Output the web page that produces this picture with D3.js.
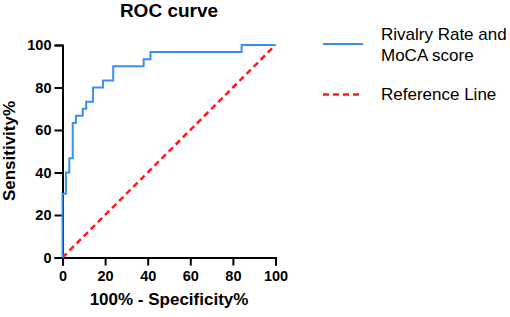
<!DOCTYPE html>
<html>
<head>
<meta charset="utf-8">
<script src="https://cdn.jsdelivr.net/npm/d3@7"></script>
<style>
  body { margin: 0; background: #fff; }
  text { font-family: "Liberation Sans", Arial, Helvetica, sans-serif; }
</style>
</head>
<body>
<div id="chart"></div>
<script>
// ROC points (100% - specificity, sensitivity)
const fpr = [0, 0, 1.6, 3.2, 4.8, 6.3, 9.5, 11.1, 14.3, 19.0, 23.8, 38.1, 41.3, 84.1, 100];
const tpr = [0, 30, 40, 46.7, 63.3, 66.7, 70, 73.3, 80, 83.3, 90, 93.3, 96.7, 100, 100];
const refX = [0, 100];
const refY = [0, 100];
const ticks = [0, 20, 40, 60, 80, 100];
const legendLabels = [["Rivalry Rate and", "MoCA score"], ["Reference Line"]];

const width = 510, height = 317;
const blue = "#3b8ff2", red = "#ff1a1a";

const svg = d3.select("#chart").append("svg")
    .attr("width", width)
    .attr("height", height);

const x = d3.scaleLinear().domain([0, 100]).range([62.5, 275.5]);
const y = d3.scaleLinear().domain([0, 100]).range([257.5, 45]);

// title
svg.append("text")
    .attr("x", 169).attr("y", 17)
    .attr("text-anchor", "middle")
    .style("font-size", "19px").style("font-weight", "bold")
    .text("ROC curve");

// axes
const xAxis = svg.append("g")
    .attr("transform", "translate(0," + y(0) + ")")
    .call(d3.axisBottom(x).tickValues(ticks).tickSize(8).tickPadding(5));
const yAxis = svg.append("g")
    .attr("transform", "translate(" + x(0) + ",0)")
    .call(d3.axisLeft(y).tickValues(ticks).tickSize(8).tickPadding(3));

[xAxis, yAxis].forEach(function(g) {
    g.select(".domain").attr("stroke", "#000").attr("stroke-width", 2);
    g.selectAll(".tick line").attr("stroke", "#000").attr("stroke-width", 2);
    g.selectAll(".tick text")
        .attr("fill", "#000")
        .style("font-size", "14.5px")
        .style("font-weight", "bold")
        .style("font-family", "'Liberation Sans', Arial, sans-serif");
});

svg.append("text")
    .attr("x", 169).attr("y", 305)
    .attr("text-anchor", "middle")
    .style("font-size", "17px").style("font-weight", "bold")
    .text("100% - Specificity%");

svg.append("text")
    .attr("transform", "translate(15," + 151 + ") rotate(-90)")
    .attr("text-anchor", "middle")
    .style("font-size", "17px").style("font-weight", "bold")
    .text("Sensitivity%");

// reference line
const refData = refX.map((v, i) => [v, refY[i]]);
svg.append("path")
    .datum(refData)
    .attr("fill", "none")
    .attr("stroke", red)
    .attr("stroke-width", 2.5)
    .attr("stroke-dasharray", "6,4")
    .attr("d", d3.line().x(d => x(d[0])).y(d => y(d[1])));

// ROC curve
const rocData = fpr.map((v, i) => [v, tpr[i]]);
svg.append("path")
    .datum(rocData)
    .attr("fill", "none")
    .attr("stroke", blue)
    .attr("stroke-width", 2)
    .attr("d", d3.line().curve(d3.curveStepAfter).x(d => x(d[0])).y(d => y(d[1])));

// legend
const legend = svg.append("g");
legend.append("line")
    .attr("x1", 323).attr("x2", 363).attr("y1", 44).attr("y2", 44)
    .attr("stroke", blue).attr("stroke-width", 2);
legend.append("line")
    .attr("x1", 323).attr("x2", 363).attr("y1", 94.5).attr("y2", 94.5)
    .attr("stroke", red).attr("stroke-width", 2.5).attr("stroke-dasharray", "6,4");

legendLabels[0].forEach(function(t, i) {
    legend.append("text")
        .attr("x", 381).attr("y", 40 + i * 21)
        .style("font-size", "17px")
        .text(t);
});
legend.append("text")
    .attr("x", 381).attr("y", 100)
    .style("font-size", "17px")
    .text(legendLabels[1][0]);
</script>
</body>
</html>
